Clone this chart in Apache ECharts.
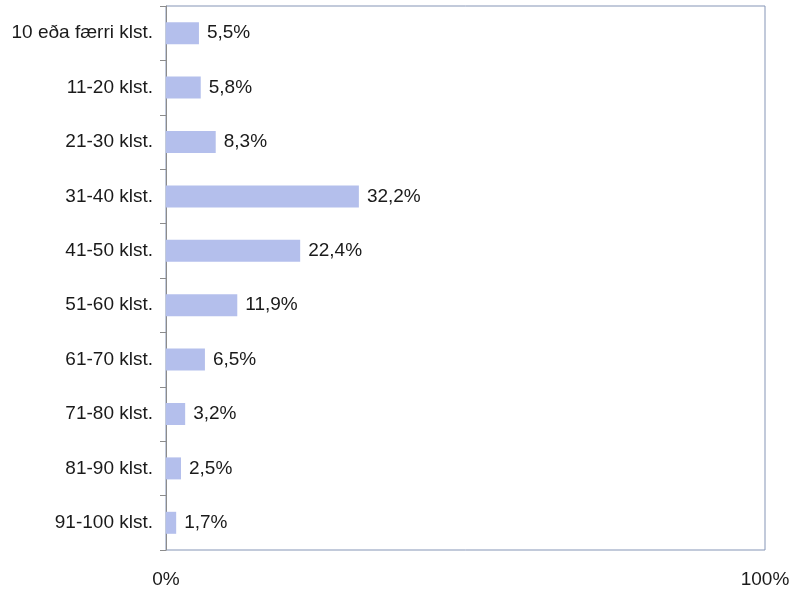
<!DOCTYPE html>
<html><head><meta charset="utf-8">
<script src="https://cdn.jsdelivr.net/npm/echarts@6/dist/echarts.min.js"></script>
<style>html,body{margin:0;padding:0;background:#fff}#c{width:797px;height:591px}</style>
</head><body><div id="c"></div>
<script>
const categories = ["10 eða færri klst.","11-20 klst.","21-30 klst.","31-40 klst.","41-50 klst.","51-60 klst.","61-70 klst.","71-80 klst.","81-90 klst.","91-100 klst."];
const values = [5.5,5.8,8.3,32.2,22.4,11.9,6.5,3.2,2.5,1.7];
const xTicks = [0,100];
const font = "'Liberation Sans Narrow','Arial Narrow','Liberation Sans',sans-serif";
const chart = echarts.init(document.getElementById('c'));
chart.setOption({
  animation:false,
  grid:{left:166,right:32,top:6,bottom:41,show:true,borderColor:'#8595b6',borderWidth:1,containLabel:false},
  xAxis:{type:'value',min:xTicks[0],max:xTicks[1],interval:100,
    axisLine:{show:false},axisTick:{show:false},splitLine:{show:false},
    axisLabel:{margin:20,fontSize:19,color:'#1a1a1a',fontFamily:font,formatter:v=>v+'%'}},
  yAxis:{type:'category',data:categories,inverse:true,
    axisLine:{show:true,lineStyle:{color:'#8c8c8c',width:1}},
    axisTick:{show:true,length:6,lineStyle:{color:'#8c8c8c'}},
    axisLabel:{margin:13,fontSize:19,color:'#1a1a1a',fontFamily:font}},
  series:[{type:'bar',data:values,barWidth:22,itemStyle:{color:'#b4bfec'},
    label:{show:true,position:'right',distance:8,fontSize:19,color:'#1a1a1a',fontFamily:font,
      formatter:p=>p.value.toFixed(1).replace('.',',')+'%'}}]
});
</script></body></html>
